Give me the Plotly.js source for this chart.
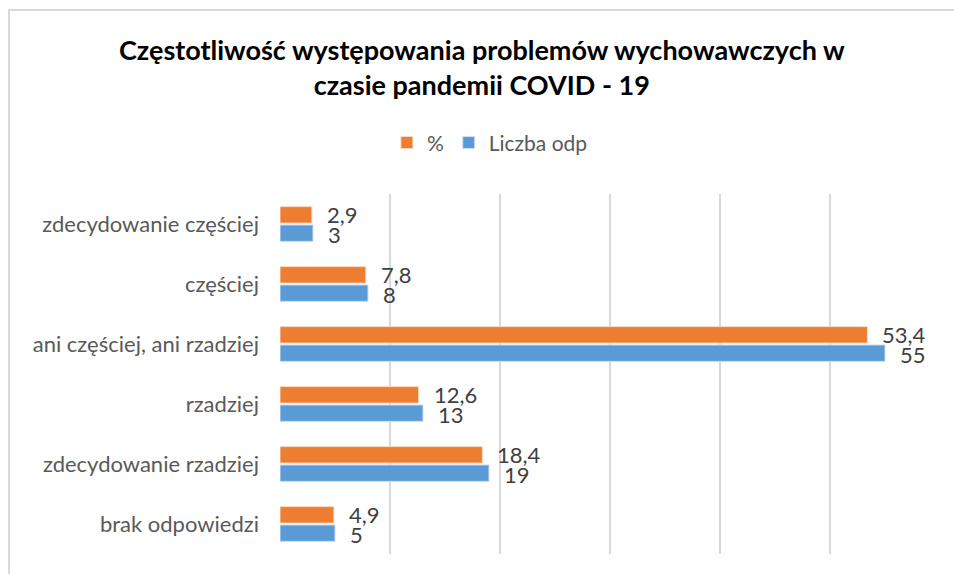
<!DOCTYPE html>
<html>
<head>
<meta charset="utf-8">
<script src="https://cdn.plot.ly/plotly-3.0.1.min.js"></script>
<style>html,body{margin:0;padding:0;background:#fff;}#chart{width:954px;height:574px;}</style>
</head>
<body>
<div id="chart"></div>
<script>
const categories = ["zdecydowanie częściej", "częściej", "ani częściej, ani rzadziej", "rzadziej", "zdecydowanie rzadziej", "brak odpowiedzi"];
const percentValues = [2.9, 7.8, 53.4, 12.6, 18.4, 4.9];
const countValues = [3, 8, 55, 13, 19, 5];
const percentLabels = ["2,9", "7,8", "53,4", "12,6", "18,4", "4,9"];
const countLabels = ["3", "8", "55", "13", "19", "5"];
const seriesNames = ["%", "Liczba odp"];

const FONT = "Lato, 'Open Sans', sans-serif";

const traces = [
  {type: "bar", orientation: "h", name: seriesNames[0], y: categories, x: percentValues,
   marker: {color: "#ED7D31", line: {color: "#fbd9c4", width: 1}}, hoverinfo: "x+y"},
  {type: "bar", orientation: "h", name: seriesNames[1], y: categories, x: countValues,
   marker: {color: "#5B9BD5", line: {color: "#cfe1f2", width: 1}}, hoverinfo: "x+y"}
];

const annotations = [];
categories.forEach((c, i) => {
  annotations.push({x: percentValues[i], y: c, xref: "x", yref: "y", text: percentLabels[i],
    showarrow: false, xanchor: "left", yanchor: "middle", xshift: 14, yshift: 10, borderpad: 0,
    font: {family: FONT, size: 22, color: "#404040"}});
  annotations.push({x: countValues[i], y: c, xref: "x", yref: "y", text: countLabels[i],
    showarrow: false, xanchor: "left", yanchor: "middle", xshift: 14, yshift: -10, borderpad: 0,
    font: {family: FONT, size: 22, color: "#404040"}});
});

const layout = {
  width: 954, height: 574,
  margin: {l: 280, r: 14, t: 194, b: 20},
  paper_bgcolor: "#ffffff", plot_bgcolor: "#ffffff",
  font: {family: FONT, color: "#595959"},
  title: {text: "<b>Częstotliwość występowania problemów wychowawczych w<br>czasie pandemii COVID - 19</b>",
    x: 0.505, xref: "container", xanchor: "center", y: 1 - 60/574, yref: "container", yanchor: "middle",
    font: {family: FONT, size: 27, color: "#000000"}},
  barmode: "group", bargap: 0.39, bargroupgap: 0.1,
  xaxis: {range: [0, 60], dtick: 10, tick0: 0, showgrid: true, gridcolor: "#d9d9d9", gridwidth: 1.5,
    showticklabels: false, zeroline: false, showline: false, ticks: "", fixedrange: true},
  yaxis: {autorange: "reversed", showgrid: false, zeroline: false, showline: false, ticks: "",
    ticklabelstandoff: 20, tickfont: {family: FONT, size: 22, color: "#595959"}},
  showlegend: true,
  legend: {orientation: "h", x: 0.318, xanchor: "center", y: 1.142, yanchor: "middle",
    font: {family: FONT, size: 21, color: "#595959"}, traceorder: "normal", itemwidth: 30},
  annotations: annotations,
  shapes: [{type: "rect", xref: "paper", yref: "paper", x0: -0.4106, x1: 1.04, y0: -0.08, y1: 1.511,
    line: {color: "#d9d9d9", width: 2}, layer: "below"}]
};

Plotly.newPlot("chart", traces, layout, {displayModeBar: false, staticPlot: true});
</script>
</body>
</html>
